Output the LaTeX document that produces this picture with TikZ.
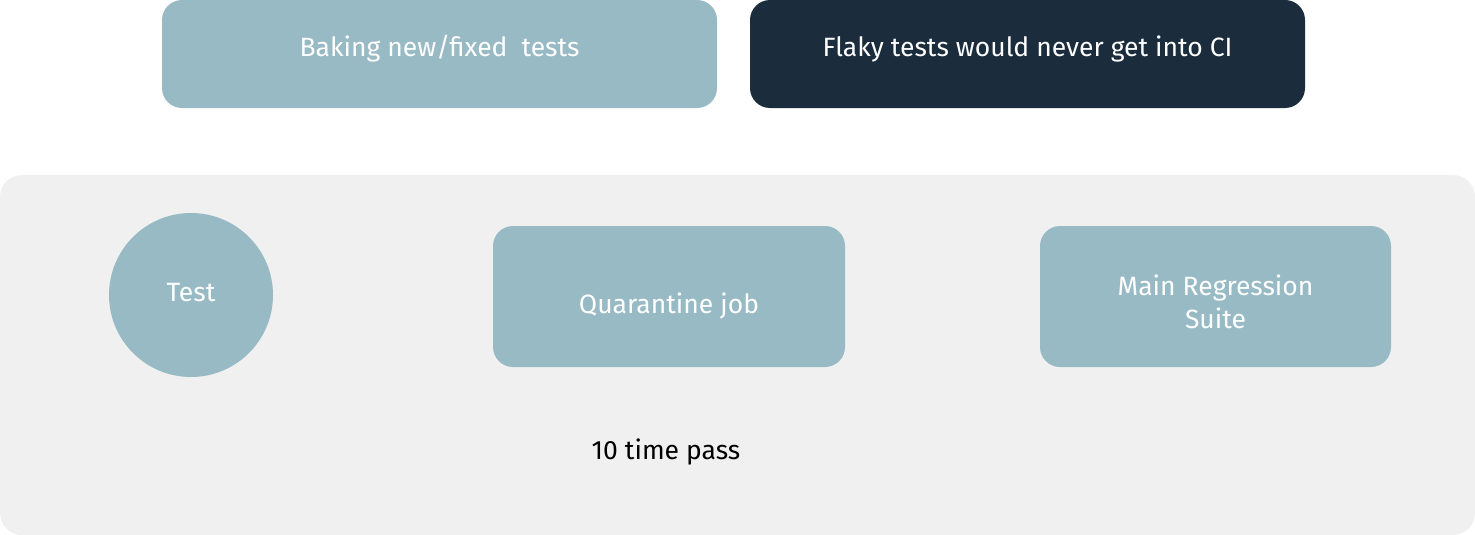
\documentclass[tikz,border=0pt]{standalone}
\usepackage{fontspec}
\setmainfont{Fira Sans}
\definecolor{teal}{HTML}{98BAC4}
\definecolor{navy}{HTML}{1B2C3C}
\definecolor{panel}{HTML}{F0F0F0}
\begin{document}
\begin{tikzpicture}[x=1pt,y=-1pt,
  lbl/.style={text=white,font=\fontsize{26.5}{33}\selectfont,align=center,inner sep=0pt},
  tealbox/.style={fill=teal,rounded corners=20pt,draw=none,inner sep=0pt},
]
\useasboundingbox (0,0) rectangle (1475,535);
\fill[white] (0,0) rectangle (1475,535);
\node[fill=panel,rounded corners=22pt,minimum width=1475pt,minimum height=360pt,inner sep=0pt] (panel) at (737.5,355) {};
\node[tealbox,minimum width=555pt,minimum height=108pt] (bake) at (439.5,54) {};
\node[fill=navy,rounded corners=20pt,inner sep=0pt,minimum width=555pt,minimum height=108pt] (flaky) at (1027.5,54) {};
\node[circle,fill=teal,minimum size=164pt,inner sep=0pt] (test) at (191,295) {};
\node[tealbox,minimum width=352pt,minimum height=141pt] (quar) at (669,296.5) {};
\node[tealbox,minimum width=351pt,minimum height=141pt] (main) at (1215.5,296.5) {};
\node[lbl] (baket) at (439.5,49) {Baking new/fixed~ tests};
\node[lbl] (flakyt) at (1027.5,49) {Flaky tests would never get into CI};
\node[lbl] (testt) at (191,293) {Test};
\node[lbl] (quart) at (669,305.5) {Quarantine job};
\node[lbl] (maint) at (1215.5,301.5) {Main Regression\\Suite};
\node[lbl,text=black] (pass) at (666,452) {10 time pass};
\end{tikzpicture}
\end{document}
